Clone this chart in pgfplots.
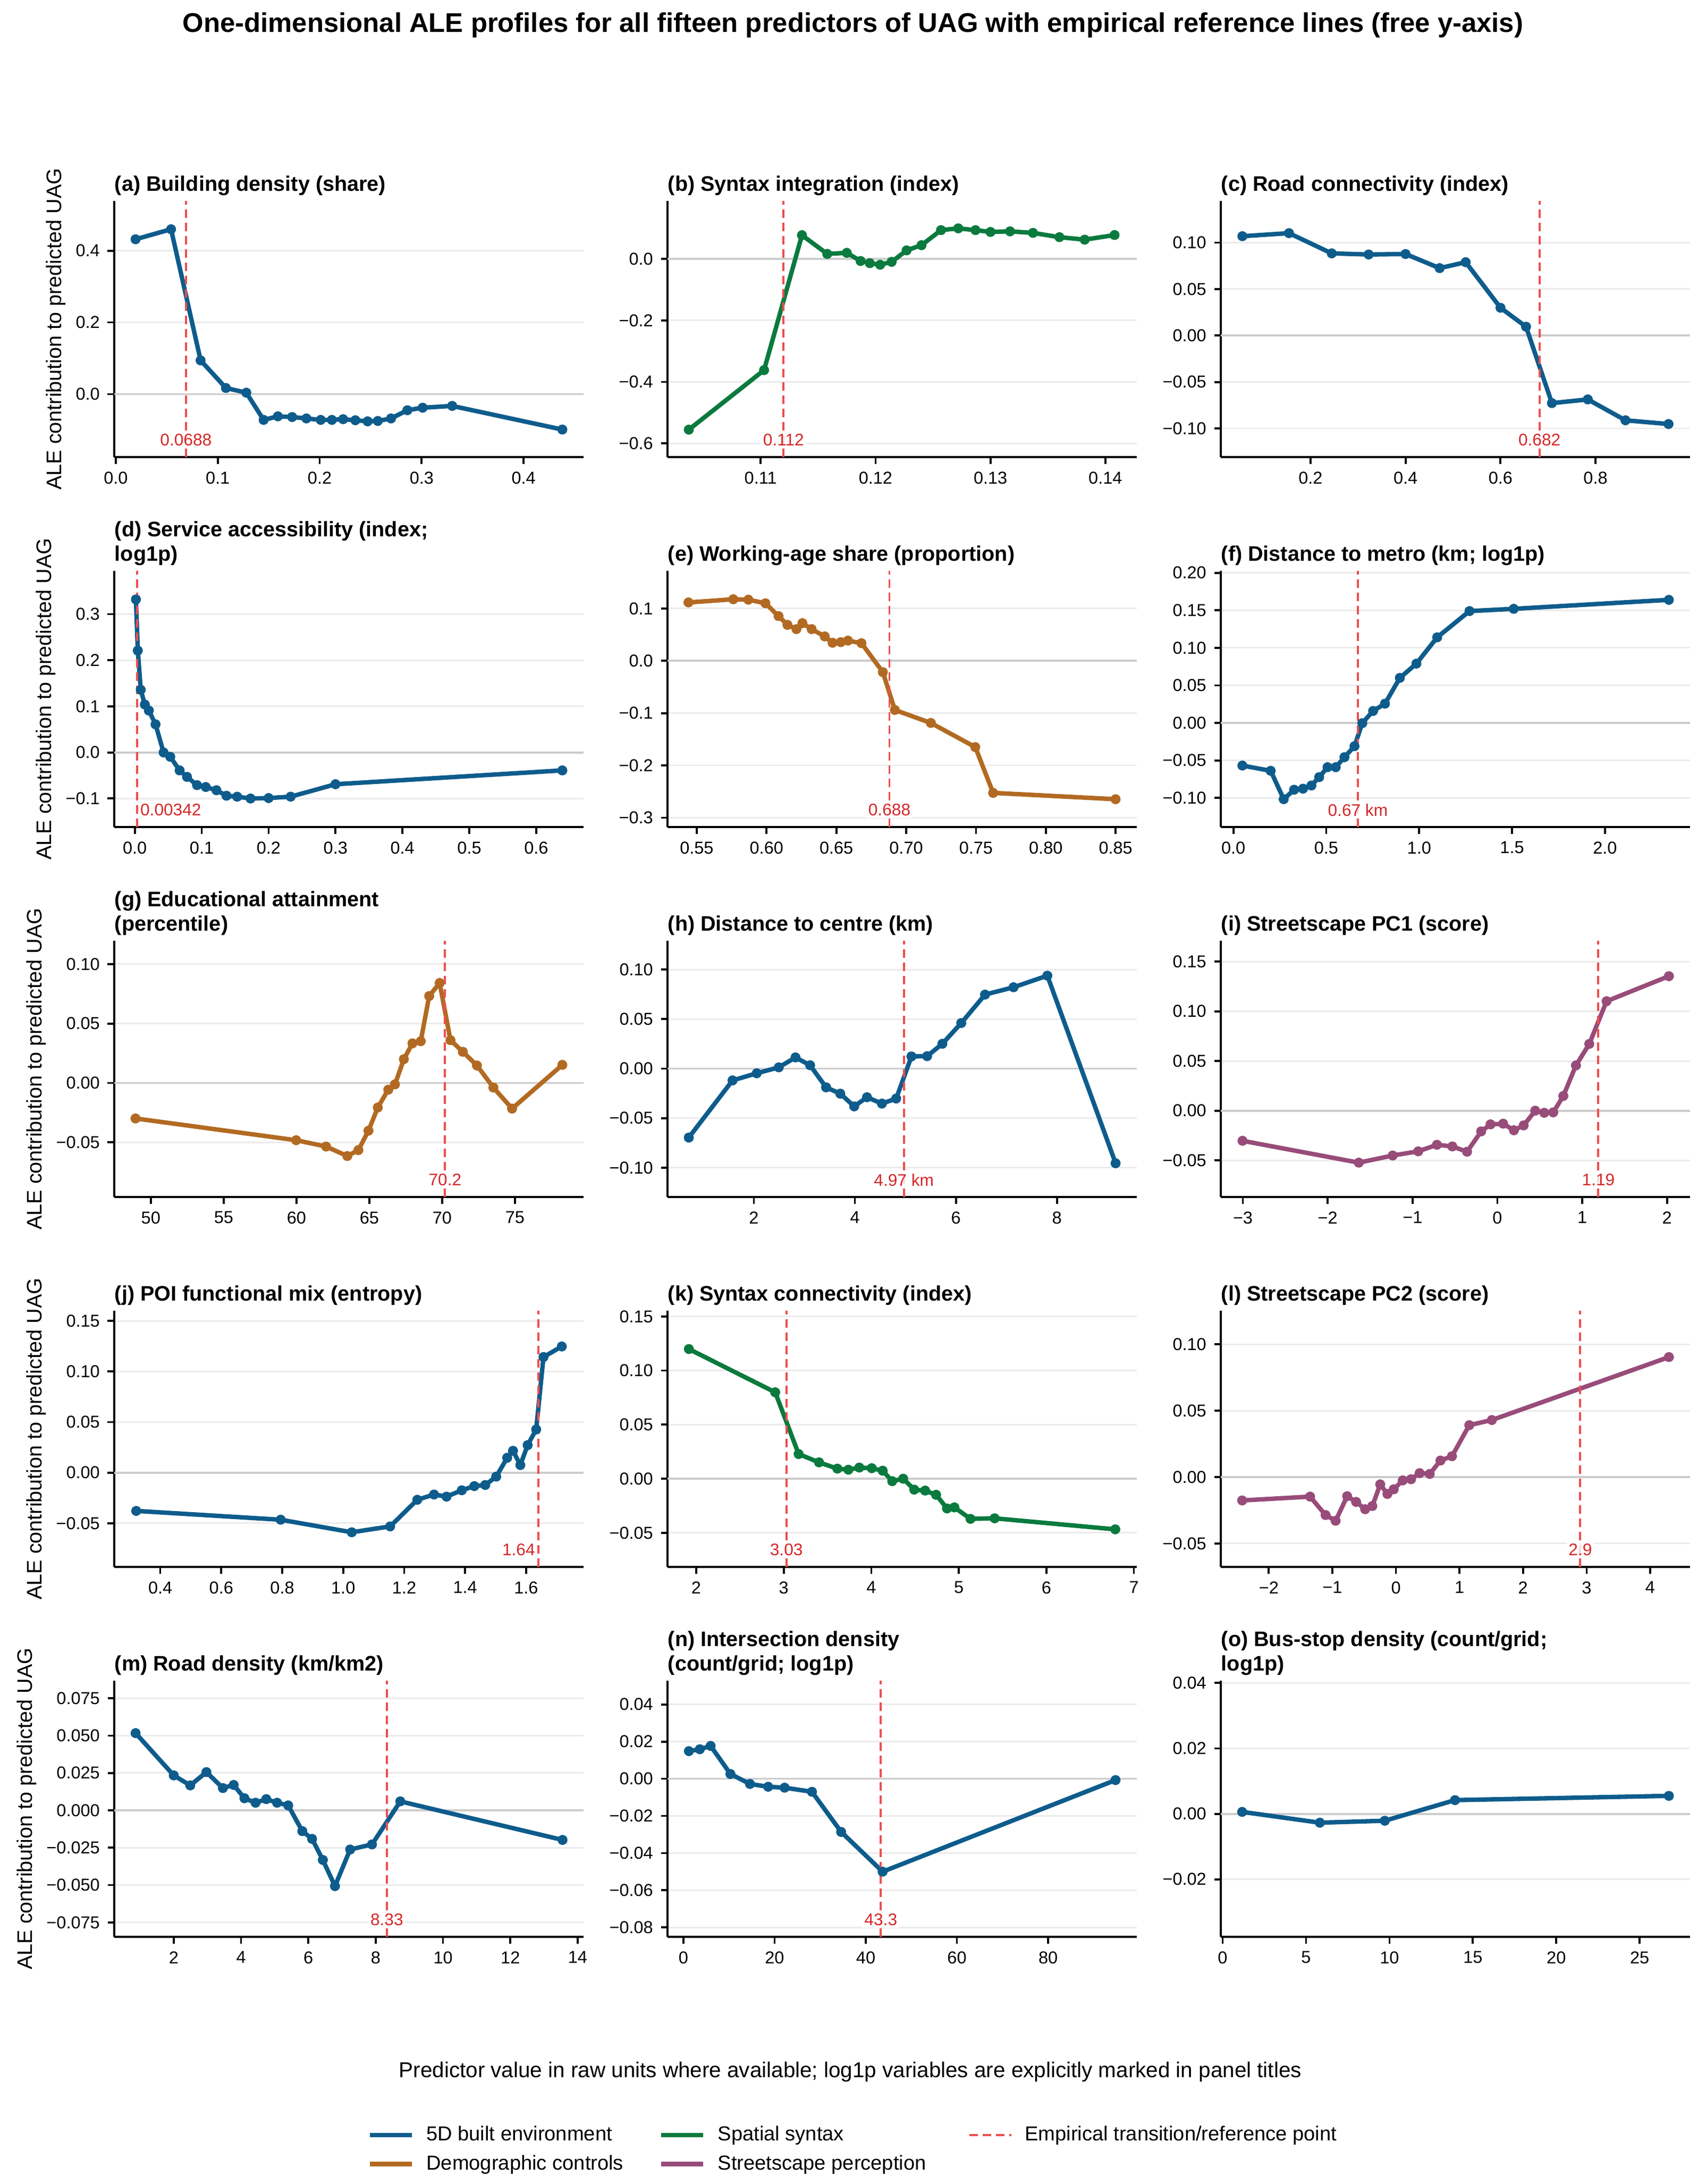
\documentclass[border=0pt]{standalone}
\usepackage{fontspec}
\setmainfont{Liberation Sans}
\usepackage{pgfplots}
\pgfplotsset{compat=1.18}
\definecolor{c5d}{RGB}{14,92,140}
\definecolor{cdem}{RGB}{178,106,34}
\definecolor{csyn}{RGB}{10,122,62}
\definecolor{cstr}{RGB}{152,76,122}
\definecolor{refred}{RGB}{238,78,78}
\definecolor{labred}{RGB}{214,39,40}
\tikzset{
  ser/.style={draw=#1, line width=2pt, line join=round, line cap=round, mark=*, mark size=1.3pt, mark options={fill=#1, draw=none, fill opacity=0.7}},
  refl/.style={draw=refred, line width=0.95pt, dash pattern=on 3.8pt off 2.2pt},
  zerol/.style={draw=black!20, line width=0.9pt},
  rlab/.style={pos=0.067, solid, font=\fontsize{7.6}{9}\selectfont, text=labred, fill=white, fill opacity=0.8, text opacity=1, inner sep=1pt},
}
\pgfplotsset{
  ale/.style={
    scale only axis, width=212pt, height=115.7pt,
    anchor=north west,
    axis lines*=left,
    axis line style={line width=1.1pt, black},
    tick align=outside, major tick length=3pt,
    major tick style={line width=0.9pt, black},
    scaled ticks=false,
    ymajorgrids, major grid style={draw=black!8, line width=0.7pt},
    tick label style={font=\fontsize{7.8}{9}\selectfont, black},
    every axis title/.style={at={(0,1)}, anchor=south west, inner sep=0pt, yshift=2.2pt, align=left, font=\bfseries\fontsize{9.5}{11}\selectfont},
    ylabel style={font=\fontsize{9.5}{11}\selectfont, yshift=-2.4pt},
  },
}
\begin{document}
\begin{tikzpicture}
\useasboundingbox (0,0) rectangle (770.4pt,-986.16pt);
\node[font=\bfseries\fontsize{12.2}{14}\selectfont] at (385.2pt,-11.3pt) {One-dimensional ALE profiles for all fifteen predictors of UAG with empirical reference lines (free y-axis)};
\node[font=\fontsize{9.7}{11}\selectfont] at (384pt,-935.5pt) {Predictor value in raw units where available; log1p variables are explicitly marked in panel titles};

% (a)
\begin{axis}[ale, at={(51.6pt,-90.72pt)},
 title={(a) Building density (share)}, ylabel={ALE contribution to predicted UAG},
 xmin=-0.0015, xmax=0.459, ymin=-0.176, ymax=0.539,
 xtick={0,0.1,0.2,0.3,0.4}, xticklabels={0.0,0.1,0.2,0.3,0.4},
 ytick={0,0.2,0.4}, yticklabels={0.0,0.2,0.4}]
\addplot[zerol] coordinates {(-0.0015,0) (0.459,0)};
\addplot[ser=c5d] coordinates {(0.0194,0.432)(0.0542,0.460)(0.0832,0.094)(0.108,0.017)(0.128,0.004)(0.145,-0.072)(0.159,-0.062)(0.173,-0.064)(0.187,-0.068)(0.201,-0.072)(0.212,-0.072)(0.223,-0.070)(0.235,-0.073)(0.247,-0.076)(0.257,-0.075)(0.270,-0.068)(0.286,-0.045)(0.301,-0.038)(0.330,-0.033)(0.438,-0.099)};
\addplot[refl] coordinates {(0.0688,-0.176) (0.0688,0.539)} node[rlab] {0.0688};
\end{axis}

% (b)
\begin{axis}[ale, at={(301.44pt,-90.72pt)},
 title={(b) Syntax integration (index)},
 xmin=0.1019, xmax=0.14275, ymin=-0.645, ymax=0.189,
 xtick={0.11,0.12,0.13,0.14}, xticklabels={0.11,0.12,0.13,0.14},
 ytick={-0.6,-0.4,-0.2,0}, yticklabels={−0.6,−0.4,−0.2,0.0}]
\addplot[zerol] coordinates {(0.1019,0) (0.14275,0)};
\addplot[ser=csyn] coordinates {(0.10375,-0.5555)(0.1103,-0.3617)(0.1136,0.0775)(0.1158,0.0165)(0.1175,0.020)(0.1187,-0.0065)(0.1195,-0.0136)(0.1204,-0.0187)(0.1214,-0.0093)(0.1227,0.028)(0.1240,0.045)(0.1257,0.094)(0.1272,0.0998)(0.1287,0.094)(0.1300,0.088)(0.1317,0.090)(0.1337,0.085)(0.1360,0.071)(0.1382,0.063)(0.1408,0.078)};
\addplot[refl] coordinates {(0.112,-0.645) (0.112,0.189)} node[rlab] {0.112};
\end{axis}

% (c)
\begin{axis}[ale, at={(551.28pt,-90.72pt)},
 title={(c) Road connectivity (index)},
 xmin=0.011, xmax=0.9995, ymin=-0.131, ymax=0.145,
 xtick={0.2,0.4,0.6,0.8}, xticklabels={0.2,0.4,0.6,0.8},
 ytick={-0.1,-0.05,0,0.05,0.1}, yticklabels={−0.10,−0.05,0.00,0.05,0.10}]
\addplot[zerol] coordinates {(0.011,0) (0.9995,0)};
\addplot[ser=c5d] coordinates {(0.0564,0.107)(0.1547,0.1103)(0.2446,0.0885)(0.3224,0.0873)(0.4,0.0878)(0.4718,0.0726)(0.5267,0.079)(0.6,0.0299)(0.6538,0.0095)(0.7082,-0.0728)(0.7838,-0.0688)(0.8631,-0.0913)(0.9538,-0.0953)};
\addplot[refl] coordinates {(0.682,-0.131) (0.682,0.145)} node[rlab] {0.682};
\end{axis}

% (d)
\begin{axis}[ale, at={(51.6pt,-257.76pt)},
 title={(d) Service accessibility (index;\\log1p)}, ylabel={ALE contribution to predicted UAG},
 xmin=-0.0307, xmax=0.671, ymin=-0.162, ymax=0.394,
 xtick={0,0.1,0.2,0.3,0.4,0.5,0.6}, xticklabels={0.0,0.1,0.2,0.3,0.4,0.5,0.6},
 ytick={-0.1,0,0.1,0.2,0.3}, yticklabels={−0.1,0.0,0.1,0.2,0.3}]
\addplot[zerol] coordinates {(-0.0307,0) (0.671,0)};
\addplot[ser=c5d] coordinates {(0.0017,0.332)(0.0045,0.221)(0.0089,0.136)(0.015,0.104)(0.021,0.091)(0.031,0.061)(0.043,0.0)(0.053,-0.0095)(0.067,-0.039)(0.078,-0.053)(0.093,-0.071)(0.106,-0.075)(0.122,-0.082)(0.137,-0.094)(0.153,-0.096)(0.173,-0.100)(0.200,-0.099)(0.233,-0.096)(0.300,-0.069)(0.639,-0.039)};
\addplot[refl] coordinates {(0.00342,-0.162) (0.00342,0.394)} node[rlab, anchor=west] {0.00342};
\end{axis}

% (e)
\begin{axis}[ale, at={(301.44pt,-257.76pt)},
 title={(e) Working-age share (proportion)},
 xmin=0.5291, xmax=0.8653, ymin=-0.318, ymax=0.172,
 xtick={0.55,0.6,0.65,0.7,0.75,0.8,0.85}, xticklabels={0.55,0.60,0.65,0.70,0.75,0.80,0.85},
 ytick={-0.3,-0.2,-0.1,0,0.1}, yticklabels={−0.3,−0.2,−0.1,0.0,0.1}]
\addplot[zerol] coordinates {(0.5291,0) (0.8653,0)};
\addplot[ser=cdem] coordinates {(0.5441,0.1116)(0.5762,0.1177)(0.5870,0.1169)(0.5992,0.110)(0.6086,0.0855)(0.615,0.0687)(0.6214,0.0606)(0.6257,0.0719)(0.6323,0.0606)(0.6417,0.0466)(0.6473,0.0345)(0.6532,0.0357)(0.6583,0.0386)(0.668,0.0337)(0.6833,-0.0217)(0.6919,-0.094)(0.7177,-0.1189)(0.7495,-0.165)(0.7623,-0.2526)(0.85,-0.2647)};
\addplot[refl] coordinates {(0.688,-0.318) (0.688,0.172)} node[rlab] {0.688};
\end{axis}

% (f)
\begin{axis}[ale, at={(551.28pt,-257.76pt)},
 title={(f) Distance to metro (km; log1p)},
 xmin=-0.0677, xmax=2.459, ymin=-0.1388, ymax=0.2026,
 xtick={0,0.5,1,1.5,2}, xticklabels={0.0,0.5,1.0,1.5,2.0},
 ytick={-0.1,-0.05,0,0.05,0.1,0.15,0.2}, yticklabels={−0.10,−0.05,0.00,0.05,0.10,0.15,0.20}]
\addplot[zerol] coordinates {(-0.0677,0) (2.459,0)};
\addplot[ser=c5d] coordinates {(0.0484,-0.0568)(0.201,-0.0638)(0.271,-0.1016)(0.327,-0.089)(0.375,-0.0876)(0.420,-0.0834)(0.462,-0.0722)(0.507,-0.059)(0.551,-0.059)(0.598,-0.0456)(0.652,-0.031)(0.694,-0.0003)(0.752,0.016)(0.816,0.0257)(0.896,0.060)(0.985,0.079)(1.097,0.114)(1.271,0.149)(1.509,0.152)(2.344,0.164)};
\addplot[refl] coordinates {(0.67,-0.1388) (0.67,0.2026)} node[rlab] {0.67 km};
\end{axis}

% (g)
\begin{axis}[ale, at={(51.6pt,-424.8pt)},
 title={(g) Educational attainment\\(percentile)}, ylabel={ALE contribution to predicted UAG},
 xmin=47.49, xmax=79.72, ymin=-0.096, ymax=0.1196,
 xtick={50,55,60,65,70,75}, xticklabels={50,55,60,65,70,75},
 ytick={-0.05,0,0.05,0.1}, yticklabels={−0.05,0.00,0.05,0.10}]
\addplot[zerol] coordinates {(47.49,0) (79.72,0)};
\addplot[ser=cdem] coordinates {(48.95,-0.0299)(59.98,-0.0482)(62.03,-0.0535)(63.49,-0.0615)(64.25,-0.0565)(64.94,-0.0402)(65.58,-0.0207)(66.30,-0.0057)(66.76,-0.0012)(67.37,0.020)(67.96,0.0333)(68.53,0.0351)(69.11,0.0731)(69.83,0.0841)(70.57,0.036)(71.42,0.0262)(72.39,0.0147)(73.52,-0.0039)(74.80,-0.0216)(78.25,0.0152)};
\addplot[refl] coordinates {(70.2,-0.096) (70.2,0.1196)} node[rlab] {70.2};
\end{axis}

% (h)
\begin{axis}[ale, at={(301.44pt,-424.8pt)},
 title={(h) Distance to centre (km)},
 xmin=0.29, xmax=9.585, ymin=-0.1296, ymax=0.129,
 xtick={2,4,6,8}, xticklabels={2,4,6,8},
 ytick={-0.1,-0.05,0,0.05,0.1}, yticklabels={−0.10,−0.05,0.00,0.05,0.10}]
\addplot[zerol] coordinates {(0.29,0) (9.585,0)};
\addplot[ser=c5d] coordinates {(0.711,-0.0696)(1.577,-0.0119)(2.056,-0.0047)(2.493,0.0013)(2.824,0.0113)(3.113,0.0034)(3.430,-0.0189)(3.711,-0.0253)(3.986,-0.0381)(4.239,-0.0289)(4.535,-0.0353)(4.817,-0.0302)(5.120,0.0123)(5.430,0.0126)(5.732,0.0251)(6.106,0.046)(6.577,0.0747)(7.141,0.0821)(7.810,0.0938)(9.162,-0.0955)};
\addplot[refl] coordinates {(4.97,-0.1296) (4.97,0.129)} node[rlab] {4.97 km};
\end{axis}

% (i)
\begin{axis}[ale, at={(551.28pt,-424.8pt)},
 title={(i) Streetscape PC1 (score)},
 xmin=-3.26, xmax=2.273, ymin=-0.0869, ymax=0.171,
 xtick={-3,-2,-1,0,1,2}, xticklabels={−3,−2,−1,0,1,2},
 ytick={-0.05,0,0.05,0.1,0.15}, yticklabels={−0.05,0.00,0.05,0.10,0.15}]
\addplot[zerol] coordinates {(-3.26,0) (2.273,0)};
\addplot[ser=cstr] coordinates {(-3.004,-0.0303)(-1.633,-0.0523)(-1.234,-0.0451)(-0.933,-0.0409)(-0.712,-0.0343)(-0.531,-0.036)(-0.357,-0.0413)(-0.191,-0.0208)(-0.081,-0.0138)(0.068,-0.0131)(0.195,-0.0197)(0.310,-0.0148)(0.446,0.0)(0.552,-0.0021)(0.658,-0.0017)(0.777,0.0148)(0.926,0.0456)(1.083,0.0672)(1.287,0.1102)(2.022,0.1354)};
\addplot[refl] coordinates {(1.19,-0.0869) (1.19,0.171)} node[rlab] {1.19};
\end{axis}

% (j)
\begin{axis}[ale, at={(51.6pt,-591.84pt)},
 title={(j) POI functional mix (entropy)}, ylabel={ALE contribution to predicted UAG},
 xmin=0.249, xmax=1.789, ymin=-0.0932, ymax=0.160,
 xtick={0.4,0.6,0.8,1.0,1.2,1.4,1.6}, xticklabels={0.4,0.6,0.8,1.0,1.2,1.4,1.6},
 ytick={-0.05,0,0.05,0.1,0.15}, yticklabels={−0.05,0.00,0.05,0.10,0.15}]
\addplot[zerol] coordinates {(0.249,0) (1.789,0)};
\addplot[ser=c5d] coordinates {(0.321,-0.0378)(0.795,-0.0465)(1.028,-0.0589)(1.154,-0.0531)(1.243,-0.0268)(1.298,-0.0216)(1.339,-0.0237)(1.389,-0.0174)(1.430,-0.0133)(1.466,-0.0122)(1.502,-0.0039)(1.538,0.0147)(1.557,0.0216)(1.581,0.0075)(1.605,0.0272)(1.633,0.0427)(1.657,0.1143)(1.717,0.1247)};
\addplot[refl] coordinates {(1.64,-0.0932) (1.64,0.160)} node[rlab, anchor=east] {1.64};
\end{axis}

% (k)
\begin{axis}[ale, at={(301.44pt,-591.84pt)},
 title={(k) Syntax connectivity (index)},
 xmin=1.672, xmax=7.035, ymin=-0.0816, ymax=0.1553,
 xtick={2,3,4,5,6,7}, xticklabels={2,3,4,5,6,7},
 ytick={-0.05,0,0.05,0.1,0.15}, yticklabels={−0.05,0.00,0.05,0.10,0.15}]
\addplot[zerol] coordinates {(1.672,0) (7.035,0)};
\addplot[ser=csyn] coordinates {(1.916,0.1199)(2.902,0.0799)(3.170,0.0228)(3.403,0.0151)(3.612,0.0093)(3.738,0.0083)(3.863,0.0103)(4.005,0.0097)(4.130,0.0074)(4.239,-0.0023)(4.364,0.0)(4.49,-0.0101)(4.615,-0.011)(4.74,-0.0149)(4.865,-0.0275)(4.949,-0.0265)(5.133,-0.0371)(5.409,-0.0366)(6.787,-0.0468)};
\addplot[refl] coordinates {(3.03,-0.0816) (3.03,0.1553)} node[rlab] {3.03};
\end{axis}

% (l)
\begin{axis}[ale, at={(551.28pt,-591.84pt)},
 title={(l) Streetscape PC2 (score)},
 xmin=-2.755, xmax=4.63, ymin=-0.0677, ymax=0.1253,
 xtick={-2,-1,0,1,2,3,4}, xticklabels={−2,−1,0,1,2,3,4},
 ytick={-0.05,0,0.05,0.1}, yticklabels={−0.05,0.00,0.05,0.10}]
\addplot[zerol] coordinates {(-2.755,0) (4.63,0)};
\addplot[ser=cstr] coordinates {(-2.419,-0.0176)(-1.35,-0.0147)(-1.106,-0.0286)(-0.948,-0.0329)(-0.767,-0.0144)(-0.626,-0.0187)(-0.484,-0.0242)(-0.371,-0.0218)(-0.247,-0.0055)(-0.134,-0.0127)(-0.034,-0.0092)(0.107,-0.0025)(0.238,-0.0016)(0.373,0.003)(0.532,0.0024)(0.701,0.0125)(0.882,0.0157)(1.154,0.0391)(1.51,0.043)(4.295,0.0904)};
\addplot[refl] coordinates {(2.9,-0.0677) (2.9,0.1253)} node[rlab] {2.9};
\end{axis}

% (m)
\begin{axis}[ale, at={(51.6pt,-758.88pt)},
 title={(m) Road density (km/km2)}, ylabel={ALE contribution to predicted UAG},
 xmin=0.233, xmax=14.18, ymin=-0.0847, ymax=0.0868,
 xtick={2,4,6,8,10,12,14}, xticklabels={2,4,6,8,10,12,14},
 ytick={-0.075,-0.05,-0.025,0,0.025,0.05,0.075}, yticklabels={−0.075,−0.050,−0.025,0.000,0.025,0.050,0.075}]
\addplot[zerol] coordinates {(0.233,0) (14.18,0)};
\addplot[ser=c5d] coordinates {(0.867,0.0517)(2.0,0.0234)(2.49,0.0167)(2.97,0.0256)(3.46,0.0149)(3.78,0.017)(4.10,0.0081)(4.43,0.0051)(4.75,0.0075)(5.07,0.0051)(5.40,0.0033)(5.82,-0.0139)(6.11,-0.0191)(6.43,-0.0332)(6.79,-0.0507)(7.24,-0.0262)(7.89,-0.0228)(8.73,0.006)(13.55,-0.0198)};
\addplot[refl] coordinates {(8.33,-0.0847) (8.33,0.0868)} node[rlab] {8.33};
\end{axis}

% (n)
\begin{axis}[ale, at={(301.44pt,-758.88pt)},
 title={(n) Intersection density\\(count/grid; log1p)},
 xmin=-3.49, xmax=99.5, ymin=-0.0851, ymax=0.0528,
 xtick={0,20,40,60,80}, xticklabels={0,20,40,60,80},
 ytick={-0.08,-0.06,-0.04,-0.02,0,0.02,0.04}, yticklabels={−0.08,−0.06,−0.04,−0.02,0.00,0.02,0.04},
 legend style={at={(0.398,-0.83)}, anchor=center, draw=none, fill=none, font=\fontsize{9.15}{11}\selectfont, legend columns=3, /tikz/column 2/.append style={column sep=14pt}, /tikz/column 4/.append style={column sep=17pt}, row sep=1pt},
 legend cell align=left,
 legend image code/.code={\draw[#1] (0pt,0pt) -- (19pt,0pt); \path (22.6pt,0pt);}]
\addplot[zerol, forget plot] coordinates {(-3.49,0) (99.5,0)};
\addplot[ser=c5d, forget plot] coordinates {(1.19,0.0149)(3.6,0.0159)(5.97,0.0177)(10.3,0.0026)(14.6,-0.0028)(18.6,-0.0043)(22.2,-0.0048)(28.2,-0.007)(34.6,-0.0286)(43.7,-0.050)(94.8,-0.0007)};
\addplot[refl, forget plot] coordinates {(43.3,-0.0851) (43.3,0.0528)} node[rlab] {43.3};
\addlegendimage{c5d, line width=2pt}\addlegendentry{5D built environment}
\addlegendimage{csyn, line width=2pt}\addlegendentry{Spatial syntax}
\addlegendimage{refl}\addlegendentry{Empirical transition/reference point}
\addlegendimage{cdem, line width=2pt}\addlegendentry{Demographic controls}
\addlegendimage{cstr, line width=2pt}\addlegendentry{Streetscape perception}
\end{axis}

% (o)
\begin{axis}[ale, at={(551.28pt,-758.88pt)},
 title={(o) Bus-stop density (count/grid;\\log1p)},
 xmin=-0.11, xmax=28.03, ymin=-0.0376, ymax=0.0407,
 xtick={0,5,10,15,20,25}, xticklabels={0,5,10,15,20,25},
 ytick={-0.02,0,0.02,0.04}, yticklabels={−0.02,0.00,0.02,0.04}]
\addplot[zerol] coordinates {(-0.11,0) (28.03,0)};
\addplot[ser=c5d] coordinates {(1.17,0.0006)(5.83,-0.0027)(9.72,-0.0021)(13.93,0.0042)(26.75,0.0055)};
\end{axis}
\end{tikzpicture}
\end{document}
